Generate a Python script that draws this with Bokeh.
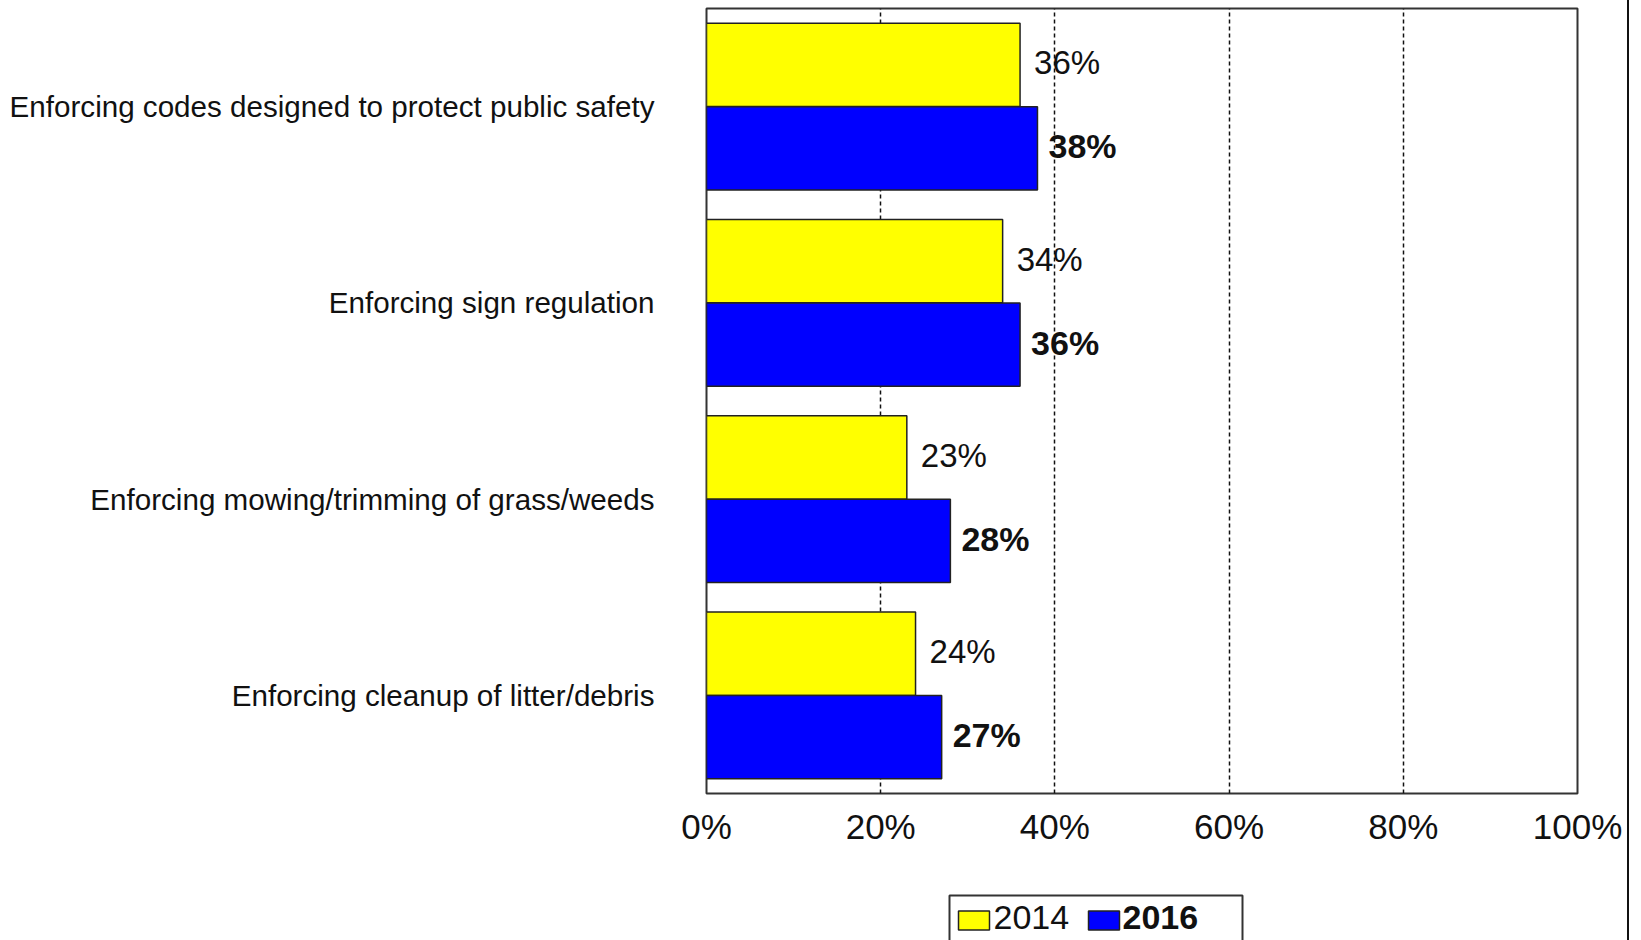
from bokeh.plotting import figure
from bokeh.models import (FactorRange, Range1d, FixedTicker, PrintfTickFormatter,
                          ColumnDataSource, Div)
from bokeh.transform import dodge
from bokeh.layouts import row, column
from bokeh.core.properties import value
from bokeh.embed import file_html
from bokeh.resources import INLINE

categories = [
    "Enforcing codes designed to protect public safety",
    "Enforcing sign regulation",
    "Enforcing mowing/trimming of grass/weeds",
    "Enforcing cleanup of litter/debris",
]
v2014 = [36, 34, 23, 24]
v2016 = [38, 36, 28, 27]
x_ticks = [0, 20, 40, 60, 80, 100]
series_names = ["2014", "2016"]
series_colors = ["#ffff00", "#0000ff"]

FONT = "Liberation Sans"

src = ColumnDataSource(dict(
    cat=categories,
    v14=v2014,
    v16=v2016,
    l14=[f"{v}%" for v in v2014],
    l16=[f"{v}%" for v in v2016],
))

W = 1627
BL, BR = 706, 50
p = figure(width=W, height=880, output_backend="svg", toolbar_location=None,
           y_range=FactorRange(factors=categories[::-1], range_padding=0),
           x_range=Range1d(0, 100),
           min_border_left=BL, min_border_right=BR, min_border_top=8, min_border_bottom=87)

p.outline_line_color = "#333333"
p.outline_line_width = 2

p.hbar(y=dodge("cat", 0.2125, range=p.y_range), right="v14", left=0, height=0.425,
       source=src, fill_color=series_colors[0], line_color="#222222", line_width=1.5)
p.hbar(y=dodge("cat", -0.2125, range=p.y_range), right="v16", left=0, height=0.425,
       source=src, fill_color=series_colors[1], line_color="#222222", line_width=1.5)

p.text(x="v14", y=dodge("cat", 0.2125, range=p.y_range), text="l14", source=src,
       x_offset=14, y_offset=-2, text_baseline="middle", text_align="left",
       text_font=value(FONT), text_font_size="33px", text_color="#111111")
p.text(x="v16", y=dodge("cat", -0.2125, range=p.y_range), text="l16", source=src,
       x_offset=11, y_offset=-2, text_baseline="middle", text_align="left",
       text_font=value(FONT), text_font_size="34px", text_font_style="bold",
       text_color="#111111")

# grid
p.ygrid.grid_line_color = None
p.xgrid.ticker = FixedTicker(ticks=x_ticks)
p.xgrid.grid_line_color = "#111111"
p.xgrid.grid_line_width = 1.5
p.xgrid.grid_line_dash = "4 3"

# x axis
p.xaxis.ticker = FixedTicker(ticks=x_ticks)
p.xaxis.formatter = PrintfTickFormatter(format="%d%%")
p.xaxis.major_label_text_font = FONT
p.xaxis.major_label_text_font_size = "35px"
p.xaxis.major_label_text_color = "#111111"
p.xaxis.major_tick_line_color = None
p.xaxis.minor_tick_line_color = None
p.xaxis.axis_line_color = None
p.xaxis.major_label_standoff = 7

# y axis
p.yaxis.major_label_text_font = FONT
p.yaxis.major_label_text_font_size = "29.6px"
p.yaxis.major_label_text_color = "#111111"
p.yaxis.major_tick_line_color = None
p.yaxis.minor_tick_line_color = None
p.yaxis.axis_line_color = None
p.yaxis.major_label_standoff = 46

# legend strip below the chart (own small canvas; x in page pixels, y in strip pixels)
LH = 60
p2 = figure(width=W, height=LH, output_backend="svg", toolbar_location=None,
            x_range=Range1d(BL, W - BR), y_range=Range1d(0, LH),
            x_axis_location=None, y_axis_location=None,
            min_border_left=BL, min_border_right=BR, min_border_top=0, min_border_bottom=0)
p2.grid.visible = False
p2.outline_line_color = None

box_left, box_right, box_top = 949, 1242, LH - 15
sw_w, sw_h, mid = 31, 19, LH - 40
sw_x = [958, 1088]
lab_x = [993, 1122]
p2.quad(left=[box_left], right=[box_right], top=[box_top], bottom=[-10],
        fill_color="white", line_color="#333333", line_width=2)
p2.quad(left=sw_x, right=[x + sw_w for x in sw_x], top=[mid + sw_h / 2] * 2,
        bottom=[mid - sw_h / 2] * 2, fill_color=series_colors,
        line_color="#222222", line_width=1.5)
p2.text(x=[lab_x[0]], y=[mid + 3], text=[series_names[0]], text_baseline="middle",
        text_align="left", text_font=value(FONT), text_font_size="34px",
        text_color="#111111")
p2.text(x=[lab_x[1]], y=[mid + 3], text=[series_names[1]], text_baseline="middle",
        text_align="left", text_font=value(FONT), text_font_size="34px",
        text_font_style="bold", text_color="#111111")

edge = Div(width=2, height=940, margin=0, styles={"background-color": "#111111"})
layout = row(column(p, p2, spacing=0), edge, spacing=0)

open("out.html", "w").write(file_html(layout, INLINE))
